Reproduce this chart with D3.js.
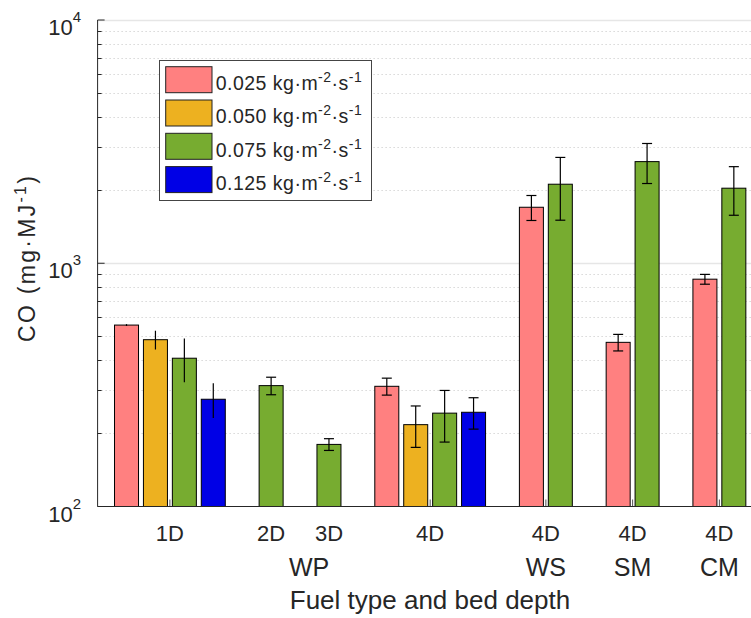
<!DOCTYPE html>
<html>
<head>
    <meta charset="utf-8">
    <style>
        body { margin: 0; background: #fff; }
        text { font-family: "Liberation Sans", Arial, sans-serif; fill: #262626; }
    </style>
</head>
<body>
    <script src="https://d3js.org/d3.v7.min.js"></script>
    <script>
        // groups on the x axis (bed depth, fuel type)
        var depths = ["1D", "2D", "3D", "4D", "4D", "4D", "4D"];
        var fuels = ["WP", "WP", "WP", "WP", "WS", "SM", "CM"];
        var rates = ["0.025", "0.050", "0.075", "0.125"];

        // CO (mg/MJ) per air flow rate, one entry per group (null = not measured)
        var co025 = [557, null, null, 312, 1699, 473, 860];
        var co050 = [485, null, null, 217, null, null, null];
        var co075 = [407, 314, 180, 242, 2113, 2617, 2035];
        var co125 = [276, null, null, 244, null, null, null];

        var err025 = [5, null, null, 25, 200, 37, 40];
        var err050 = [43, null, null, 42, null, null, null];
        var err075 = [83, 26, 10, 58, 610, 490, 460];
        var err125 = [45, null, null, 36, null, null, null];

        var yTicks = [100, 1000, 10000];

        var coValues = [co025, co050, co075, co125];
        var coErrors = [err025, err050, err075, err125];
        var colors = ["#ff8080", "#edb120", "#77ac30", "#0000e6"];

        var width = 751, height = 618;
        var plotLeft = 97.6, plotTop = 20, plotBottom = 506.5;
        var pitch = 28.92, barWidth = 0.83, capHalf = 5;

        // bars of a group sit side by side, one empty slot between groups
        var bars = [], centers = [], slot = 0;
        depths.forEach(function (d, gi) {
            var first = slot + 1;
            coValues.forEach(function (series, ri) {
                if (series[gi] == null) return;
                slot++;
                bars.push({ group: gi, rate: ri, slot: slot, value: series[gi], err: coErrors[ri][gi] });
            });
            centers.push((first + slot) / 2);
            slot++;
        });

        var xScale = d3.scaleLinear().domain([0, 23]).range([plotLeft, plotLeft + 23 * pitch]);
        var yScale = d3.scaleLog().domain([100, 10000]).range([plotBottom, plotTop]);

        var svg = d3.select("body").append("svg")
            .attr("width", width)
            .attr("height", height);

        var x0 = xScale(0), x1 = width;

        // grid lines
        var minor = [];
        [100, 1000].forEach(function (dec) {
            for (var k = 2; k <= 9; k++) minor.push(dec * k);
        });
        svg.append("g").selectAll("line").data(minor).enter().append("line")
            .attr("x1", x0).attr("x2", x1)
            .attr("y1", function (d) { return Math.round(yScale(d)) + 0.5; })
            .attr("y2", function (d) { return Math.round(yScale(d)) + 0.5; })
            .attr("stroke", "#c4c4c4")
            .attr("stroke-width", 1)
            .attr("stroke-dasharray", "1,3");
        svg.append("g").selectAll("line").data([1000, 10000]).enter().append("line")
            .attr("x1", x0).attr("x2", x1)
            .attr("y1", function (d) { return Math.round(yScale(d)) + 0.5; })
            .attr("y2", function (d) { return Math.round(yScale(d)) + 0.5; })
            .attr("stroke", "#e6e6e6")
            .attr("stroke-width", 1.5);

        // x ticks (behind bars)
        svg.append("g").selectAll("line").data(centers).enter().append("line")
            .attr("x1", function (d) { return xScale(d); })
            .attr("x2", function (d) { return xScale(d); })
            .attr("y1", plotBottom).attr("y2", plotBottom - 7)
            .attr("stroke", "#555").attr("stroke-width", 1);

        // bars
        svg.append("g").selectAll("rect").data(bars).enter().append("rect")
            .attr("x", function (d) { return xScale(d.slot - barWidth / 2); })
            .attr("width", xScale(barWidth) - xScale(0))
            .attr("y", function (d) { return yScale(d.value); })
            .attr("height", function (d) { return plotBottom - yScale(d.value); })
            .attr("fill", function (d) { return colors[d.rate]; })
            .attr("stroke", "#000")
            .attr("stroke-width", 1);

        // error bars (first group drawn without caps)
        var eb = svg.append("g").attr("stroke", "#000").attr("stroke-width", 1.2);
        bars.forEach(function (d) {
            var cx = xScale(d.slot);
            var yHi = yScale(d.value + d.err), yLo = yScale(d.value - d.err);
            eb.append("line").attr("x1", cx).attr("x2", cx).attr("y1", yHi).attr("y2", yLo);
            if (d.group > 0) {
                [yHi, yLo].forEach(function (y) {
                    eb.append("line").attr("x1", cx - capHalf).attr("x2", cx + capHalf)
                        .attr("y1", y).attr("y2", y);
                });
            }
        });

        // axes with inward ticks
        var ax = svg.append("g").attr("stroke", "#262626").attr("stroke-width", 1);
        ax.append("line").attr("x1", x0).attr("x2", x0).attr("y1", plotTop).attr("y2", plotBottom);
        ax.append("line").attr("x1", x0).attr("x2", x1).attr("y1", plotBottom).attr("y2", plotBottom);
        minor.forEach(function (v) {
            var y = Math.round(yScale(v)) + 0.5;
            ax.append("line").attr("x1", x0).attr("x2", x0 + 4).attr("y1", y).attr("y2", y);
        });
        yTicks.forEach(function (v) {
            var y = yScale(v);
            ax.append("line").attr("x1", x0).attr("x2", x0 + 7).attr("y1", y).attr("y2", y);
        });

        // y tick labels 10^n
        var yl = svg.append("g").selectAll("text").data(yTicks).enter().append("text")
            .attr("x", 81)
            .attr("y", function (d) { return yScale(d) + 15; })
            .attr("text-anchor", "end")
            .style("font-size", "22px");
        yl.append("tspan").text("10");
        yl.append("tspan").attr("dy", -13).style("font-size", "15px")
            .text(function (d) { return Math.round(Math.log10(d)); });

        // x tick labels
        svg.append("g").selectAll("text").data(depths).enter().append("text")
            .attr("x", function (d, i) { return xScale(centers[i]); })
            .attr("y", 541)
            .attr("text-anchor", "middle")
            .style("font-size", "22px")
            .text(function (d) { return d; });

        var fuelNames = [];
        fuels.forEach(function (f, i) {
            var found = fuelNames.filter(function (e) { return e.name === f; })[0];
            if (found) found.idx.push(i);
            else fuelNames.push({ name: f, idx: [i] });
        });
        svg.append("g").selectAll("text").data(fuelNames).enter().append("text")
            .attr("x", function (d) {
                var c = d3.mean(d.idx, function (i) { return centers[i]; });
                return xScale(c) + (d.idx.length > 1 ? 9 : 0);
            })
            .attr("y", 576)
            .attr("text-anchor", "middle")
            .style("font-size", "25px")
            .text(function (d) { return d.name; });

        // axis titles
        svg.append("text")
            .attr("x", 430).attr("y", 609)
            .attr("text-anchor", "middle")
            .style("font-size", "26px")
            .text("Fuel type and bed depth");

        var ylab = svg.append("text")
            .attr("transform", "translate(35,259) rotate(-90)")
            .attr("text-anchor", "middle")
            .attr("textLength", 166)
            .attr("lengthAdjust", "spacing")
            .style("font-size", "23px");
        ylab.append("tspan").text("CO (mg\u00b7MJ");
        ylab.append("tspan").attr("dy", -9).style("font-size", "16px").text("-1");
        ylab.append("tspan").attr("dy", 9).text(")");

        // legend
        var lg = svg.append("g");
        lg.append("rect")
            .attr("x", 159.5).attr("y", 60.5).attr("width", 212).attr("height", 140)
            .attr("fill", "#fff").attr("stroke", "#444").attr("stroke-width", 1);
        rates.forEach(function (r, i) {
            var ty = 66.7 + i * 33.3;
            lg.append("rect")
                .attr("x", 165.7).attr("y", ty).attr("width", 46.3).attr("height", 26)
                .attr("fill", colors[i]).attr("stroke", "#222").attr("stroke-width", 1);
            var t = lg.append("text").attr("x", 215.7).attr("y", ty + 23.3)
                .attr("textLength", 146)
                .attr("lengthAdjust", "spacing")
                .style("font-size", "19.5px");
            t.append("tspan").text(r + " kg\u00b7m");
            t.append("tspan").attr("dy", -8).style("font-size", "14px").text("-2");
            t.append("tspan").attr("dy", 8).text("\u00b7s");
            t.append("tspan").attr("dy", -8).style("font-size", "14px").text("-1");
        });
    </script>
</body>
</html>
